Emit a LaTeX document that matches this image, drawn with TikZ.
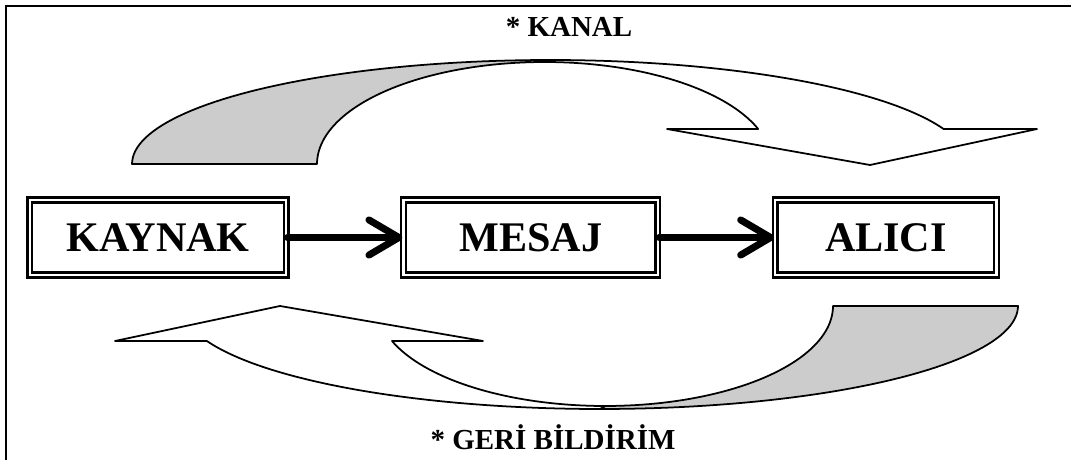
\documentclass[tikz,border=0pt]{standalone}
\usepackage{fontspec}
\setmainfont{Liberation Serif}
\usetikzlibrary{positioning, arrows.meta}
\definecolor{tailgray}{HTML}{CCCCCC}

\begin{document}
\begin{tikzpicture}[
    x=0.02cm, y=0.02cm,
    box/.style={rectangle, draw, double, line width=1.3pt, double distance=1.4pt, minimum height=1.5cm, font=\fontsize{24}{28}\selectfont\bfseries},
    arr/.style={-{Straight Barb[length=17pt, width=20pt, round]}, line width=4pt, line cap=round},
    band/.style={draw, line width=1pt, line join=round},
    lbl/.style={font=\fontsize{16.5}{20}\selectfont\bfseries},
  ]
    \useasboundingbox (0,0) rectangle (1071,460);
    \draw[line width=1.2pt] (6,0) -- (6,454) -- (1071,454);

    \node[box, minimum width=5.13cm] (kaynak) at (158,222.5) {KAYNAK};
    \node[box, minimum width=5.09cm, right=2.3cm of kaynak] (mesaj) {MESAJ};
    \node[box, minimum width=4.43cm, right=2.3cm of mesaj] (alici) {ALICI};

    \draw[arr] (kaynak) -- (mesaj);
    \draw[arr] (mesaj) -- (alici);

    % kanal: curved band over the boxes
    \filldraw[band, fill=tailgray] (132,296)
      -- plot[domain=180:90, samples=50, variable=\t] ({550+418*cos(\t)},{296+104*sin(\t)})
      -- plot[domain=90:180, samples=50, variable=\t] ({544.5+227.5*cos(\t)},{296+102*sin(\t)}) -- cycle;
    \filldraw[band, fill=white]
      plot[domain=90:19.66, samples=50, variable=\t] ({550+418*cos(\t)},{296+104*sin(\t)})
      -- (1037,331) -- (870,295) -- (667,331)
      -- plot[domain=20.07:90, samples=50, variable=\t] ({544.5+227.5*cos(\t)},{296+102*sin(\t)}) -- cycle;
    \node[lbl] (kanal) at (569,433) {* KANAL};

    % geri bildirim: curved band under the boxes
    \filldraw[band, fill=tailgray] (1018,154)
      -- plot[domain=0:-90, samples=50, variable=\t] ({600+418*cos(\t)},{154+103*sin(\t)})
      -- plot[domain=-90:0, samples=50, variable=\t] ({605.3+227.7*cos(\t)},{154+100*sin(\t)}) -- cycle;
    \filldraw[band, fill=white]
      plot[domain=-90:-160.13, samples=50, variable=\t] ({600+418*cos(\t)},{154+103*sin(\t)})
      -- (115,119) -- (280,154) -- (483,119)
      -- plot[domain=-159.51:-90, samples=50, variable=\t] ({605.3+227.7*cos(\t)},{154+100*sin(\t)}) -- cycle;
    \node[lbl] (geri) at (553,23) {* GERİ BİLDİRİM};
\end{tikzpicture}
\end{document}
